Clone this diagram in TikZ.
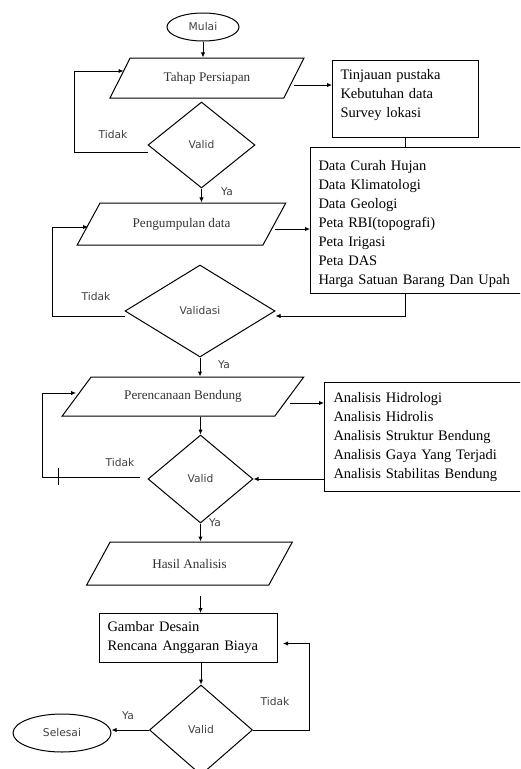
\documentclass[tikz,border=0pt]{standalone}
\usepackage{fontspec}
\setmainfont{Liberation Serif}
\newfontfamily\lblfont{DejaVu Sans}
\usetikzlibrary{arrows.meta,shapes.geometric}

\begin{document}
\begin{tikzpicture}[x=1pt,y=-1pt,line width=1pt,
    t/.style={draw,ellipse,inner sep=0pt,font=\lblfont\fontsize{10.7}{12}\selectfont,text=black!75},
    io/.style={draw,trapezium,trapezium stretches=true,inner sep=0pt,
    font=\fontsize{13.2}{15}\selectfont,text=black!80},
    d/.style={draw,diamond,inner sep=0pt,font=\lblfont\fontsize{10.7}{12}\selectfont,text=black!75},
    b/.style={draw,anchor=north west,inner xsep=8pt,inner ysep=0pt,align=left,
    font=\fontsize{14.5}{19}\selectfont},
    lab/.style={font=\lblfont\fontsize{10.7}{12}\selectfont,text=black!75},
    a/.style={-{Latex[length=5pt,width=4.5pt]}}]
    \useasboundingbox (0,0) rectangle (520,769);
    \clip (0,0) rectangle (520,769);
    \node[t,minimum width=72pt,minimum height=28pt] (mulai) at (203,27) {Mulai};
    \node[io,trapezium left angle=46.5,trapezium right angle=133.5,minimum width=194pt,
      minimum height=40pt] (tp) at (207,78) {Tahap Persiapan};
    \node[b,text width=130pt,minimum height=77pt] (tj) at (332,60)
      {Tinjauan pustaka\\Kebutuhan data\\Survey lokasi\rule[-11.5pt]{0pt}{0pt}};
    \node[d,minimum width=107pt,minimum height=86pt] (v1) at (201.5,145) {Valid};
    \node[io,trapezium left angle=41.2,trapezium right angle=138.8,minimum width=209pt,
      minimum height=42pt] (pd) at (181.5,224) {Pengumpulan data};
    \node[b,text width=204pt,minimum height=146pt] (dc) at (310,147)
      {\rule{0pt}{18pt}Data Curah Hujan\\Data Klimatologi\\Data Geologi\\Peta RBI(topografi)\\
      Peta Irigasi\\Peta DAS\\Harga Satuan Barang Dan Upah};
    \node[d,minimum width=150pt,minimum height=92pt] (vd) at (200,311) {Validasi};
    \node[io,trapezium left angle=33,trapezium right angle=147,minimum width=242pt,
      minimum height=39pt] (pb) at (183,396.5) {Perencanaan Bendung};
    \node[b,inner xsep=9pt,text width=188pt,minimum height=109pt] (an) at (324,382)
      {Analisis Hidrologi\\Analisis Hidrolis\\Analisis Struktur Bendung\\
      Analisis Gaya Yang Terjadi\\Analisis Stabilitas Bendung};
    \node[d,minimum width=105pt,minimum height=88pt] (v3) at (200.5,479) {Valid};
    \node[io,trapezium left angle=40.1,trapezium right angle=139.9,minimum width=207pt,
      minimum height=43pt] (ha) at (189.5,563.5) {Hasil Analisis};
    \node[b,text width=162pt,minimum height=49pt] (gd) at (99,613)
      {Gambar Desain\\Rencana Anggaran Biaya};
    \node[d,minimum width=103pt,minimum height=90pt] (v4) at (201,730) {Valid};
    \node[t,minimum width=98pt,minimum height=38pt] (sl) at (62,733) {Selesai};
    \node[lab] (tidak1) at (113,135) {Tidak};
    \node[lab] (ya1) at (227,192) {Ya};
    \node[lab] (tidak2) at (96,297) {Tidak};
    \node[lab] (ya2) at (224,365) {Ya};
    \node[lab] (tidak3) at (120,463) {Tidak};
    \node[lab] (ya3) at (215,523) {Ya};
    \node[lab] (tidak4) at (275,702) {Tidak};
    \node[lab] (ya4) at (128,716) {Ya};
    \draw[a] (mulai.south) -- (mulai.south |- tp.north);
    \draw[a] ([yshift=-7pt]tp.east) -- ([yshift=-7pt]tp.east -| tj.west);
    \draw (tj.south) -- (tj.south |- dc.north);
    \draw[a] ([yshift=-7pt]v1.west) -- ++(-73,0) |- ([xshift=4pt,yshift=7pt]tp.west);
    \draw[a] (v1.south) -- (v1.south |- pd.north);
    \draw[a] ([yshift=-5pt]pd.east) -- ([yshift=-5pt]pd.east -| dc.west);
    \draw[a] ([yshift=-5pt]vd.west) -- ++(-72,0) |- ([yshift=-3pt]pd.west);
    \draw[a] (tj.south |- dc.south) |- ([yshift=-5pt]vd.east);
    \draw[a] (vd.south) -- (vd.south |- pb.north);
    \draw[a] ([yshift=-6.5pt]pb.east) -- ([yshift=-6.5pt]pb.east -| an.west);
    \draw[a] (v3.north |- pb.south) -- (v3.north);
    \draw[a] (an.west |- v3.east) -- (v3.east);
    \draw[a] ([xshift=-8pt,yshift=2pt]v3.west) -- ++(-97,0) |- ([yshift=3.5pt]pb.west);
    \draw (58,468) -- (58,485);
    \draw[a] (v3.south) -- (v3.south |- ha.north);
    \draw[a,shorten <=10pt] (v3.south |- ha.south) -- (v3.south |- gd.north);
    \draw[a] (v4.north |- gd.south) -- (v4.north);
    \draw[a] (v4.east) -- ++(56,0) |- ([xshift=5pt,yshift=-5.5pt]gd.east);
    \draw[a] (v4.west) -- (v4.west -| sl.east);
\end{tikzpicture}
\end{document}
